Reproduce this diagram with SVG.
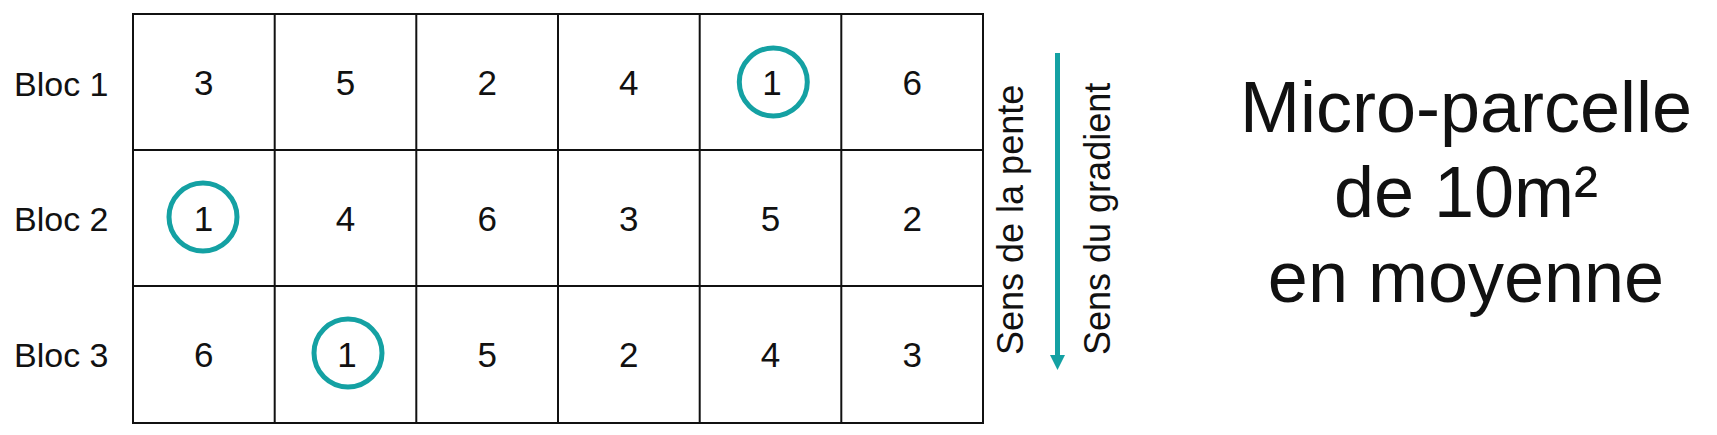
<svg xmlns="http://www.w3.org/2000/svg" width="1717" height="435" viewBox="0 0 1717 435">
<defs>
<style>
.t{font-family:"Liberation Sans",Arial,sans-serif;fill:#111;}
.num{font-size:35px;text-anchor:middle;}
.lbl{font-size:34px;}
.side{font-size:36px;}
.big{font-size:72px;text-anchor:middle;}
.grid{stroke:#111;stroke-width:2;fill:none;}
.ring{stroke:#14a1a3;stroke-width:5;fill:none;}
</style>
</defs>
<rect width="1717" height="435" fill="#fff"/>
<g id="grid" class="grid">
<rect x="133" y="14" width="850" height="409"/>
<line x1="274.7" y1="14" x2="274.7" y2="423"/>
<line x1="416.3" y1="14" x2="416.3" y2="423"/>
<line x1="558" y1="14" x2="558" y2="423"/>
<line x1="699.7" y1="14" x2="699.7" y2="423"/>
<line x1="841.3" y1="14" x2="841.3" y2="423"/>
<line x1="133" y1="150" x2="983" y2="150"/>
<line x1="133" y1="286" x2="983" y2="286"/>
</g>
<g id="labels" class="t lbl">
<text x="14" y="96">Bloc 1</text>
<text x="14" y="231">Bloc 2</text>
<text x="14" y="367">Bloc 3</text>
</g>
<g id="row1" class="t num">
<text x="203.8" y="95">3</text>
<text x="345.5" y="95">5</text>
<text x="487.2" y="95">2</text>
<text x="628.8" y="95">4</text>
<text x="772" y="95">1</text>
<text x="912.2" y="95">6</text>
</g>
<g id="row2" class="t num">
<text x="203.5" y="231">1</text>
<text x="345.5" y="231">4</text>
<text x="487.2" y="231">6</text>
<text x="628.8" y="231">3</text>
<text x="770.5" y="231">5</text>
<text x="912.2" y="231">2</text>
</g>
<g id="row3" class="t num">
<text x="203.8" y="367">6</text>
<text x="347" y="367">1</text>
<text x="487.2" y="367">5</text>
<text x="628.8" y="367">2</text>
<text x="770.5" y="367">4</text>
<text x="912.2" y="367">3</text>
</g>
<g id="circles" class="ring">
<circle cx="773.3" cy="82" r="34"/>
<circle cx="203" cy="217" r="34"/>
<circle cx="348" cy="353" r="34"/>
</g>
<g id="connectors">
<line x1="1057.5" y1="53" x2="1057.5" y2="356" stroke="#14a1a3" stroke-width="5"/>
<polygon points="1050,355 1065,355 1057.5,370" fill="#14a1a3"/>
</g>
<g id="side-labels" class="t side">
<text transform="translate(1023,355) rotate(-90)">Sens de la pente</text>
<text transform="translate(1110,355) rotate(-90)">Sens du gradient</text>
</g>
<g id="title" class="t big">
<text x="1466" y="132">Micro-parcelle</text>
<text x="1466" y="217">de 10m²</text>
<text x="1466" y="302">en moyenne</text>
</g>
</svg>
